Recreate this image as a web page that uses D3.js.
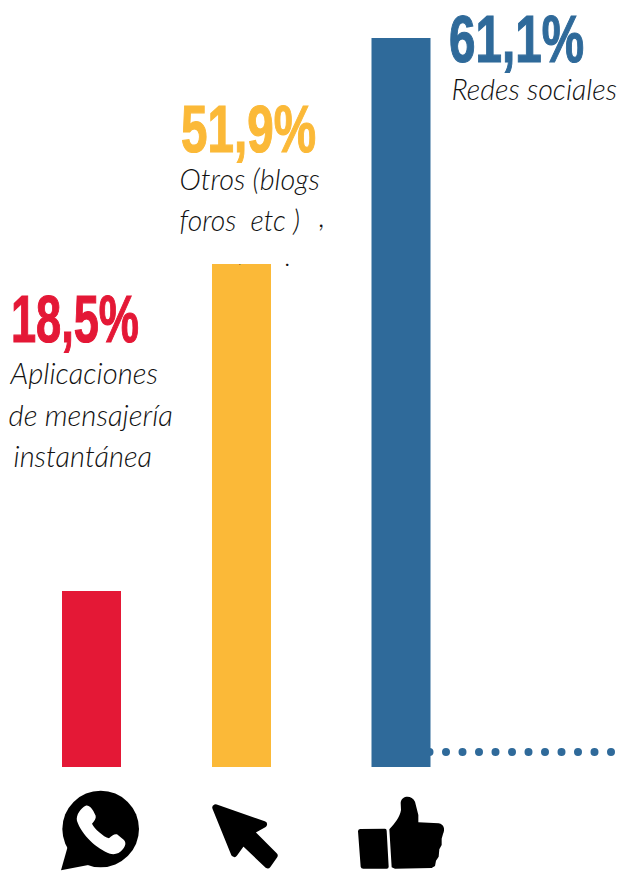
<!DOCTYPE html>
<html lang="es"><head><meta charset="utf-8">
<script src="https://cdn.jsdelivr.net/npm/d3@7/dist/d3.min.js"></script>
<style>
html,body{margin:0;padding:0;background:#fff;overflow:hidden}
svg{display:block}
.pct{font-family:"Liberation Sans Narrow","Liberation Sans",sans-serif;font-weight:700}
.lbl{font-family:Lato,sans-serif;font-weight:300;font-style:italic;fill:#111}
</style></head><body>
<script>
// ---- data ----
const categories = ["Aplicaciones de mensajería instantánea", "Otros (blogs, foros, etc.)", "Redes sociales"];
const values = [18.5, 51.9, 61.1];
const valueLabels = ["18,5%", "51,9%", "61,1%"];
const labelLines = [
  ["Aplicaciones", "de mensajería", "instantánea"],
  ["Otros (blogs", "foros  etc )"],
  ["Redes sociales"]
];
const strayMarks = [",", ".", "."];   // punctuation left detached in the source artwork

// ---- layout ----
const W = 621, H = 873, baseY = 767, barW = 59;
const colors = d3.scaleOrdinal(categories, ["#e41836", "#fbb938", "#2f6a9a"]);
const x = d3.scaleOrdinal(categories, [62, 212, 371.5]);
// the source bars are not drawn proportionally, so the scale is piecewise through each value
const y = d3.scaleLinear().domain([0, ...values]).range([baseY, 591, 264, 38]);

const pctLayout = [
  {x: 11, y: 342, w: 128, size: 66},
  {x: 181, y: 152, w: 135, size: 66},
  {x: 449, y: 62, w: 135, size: 66}
];
const lblLayout = [
  [{x: 10.5, y: 384, w: 147.5}, {x: 8.5, y: 426, w: 164.5}, {x: 13.5, y: 467, w: 138.5}],
  [{x: 179.5, y: 190, w: 140.5}, {x: 179.5, y: 231, w: 120.5}],
  [{x: 451.5, y: 100, w: 165.5}]
];
const strayLayout = [{x: 319, y: 227, s: 29}, {x: 285, y: 266, s: 26}, {x: 239, y: 265, s: 9}];

const svg = d3.select("body").append("svg").attr("width", W).attr("height", H);

// squeeze a text horizontally to the measured width of the source lettering
function fitWidth(sel, layoutOf) {
  sel.attr("transform", function (d, i) {
    const l = layoutOf(d, i);
    return `translate(${l.x},${l.y}) scale(${l.w / this.getComputedTextLength()},1)`;
  });
}

// dotted leader
svg.append("path")
  .attr("d", d3.line()([[x(categories[2]) + barW - 1, 752], [613, 752]]))
  .attr("stroke", colors(categories[2])).attr("stroke-width", 8)
  .attr("stroke-linecap", "round").attr("stroke-dasharray", "0 16.5").attr("fill", "none");

// bars
svg.selectAll("rect.bar").data(categories).join("rect").attr("class", "bar")
  .attr("x", d => x(d)).attr("width", barW)
  .attr("y", (d, i) => y(values[i])).attr("height", (d, i) => baseY - y(values[i]))
  .attr("fill", d => colors(d));

// value labels
svg.selectAll("text.pct").data(categories).join("text").attr("class", "pct")
  .attr("font-size", (d, i) => pctLayout[i].size)
  .attr("fill", d => colors(d)).attr("stroke", d => colors(d)).attr("stroke-width", 1.2)
  .text((d, i) => valueLabels[i])
  .call(fitWidth, (d, i) => pctLayout[i]);

// category labels
labelLines.forEach((lines, i) => {
  svg.selectAll(null).data(lines).join("text").attr("class", "lbl")
    .attr("font-size", 30).style("white-space", "pre")
    .text(d => d)
    .call(fitWidth, (d, j) => lblLayout[i][j]);
});
svg.selectAll("text.stray").data(strayMarks).join("text").attr("class", "lbl stray")
  .attr("x", (d, i) => strayLayout[i].x).attr("y", (d, i) => strayLayout[i].y)
  .attr("font-size", (d, i) => strayLayout[i].s).text(d => d);

// pictograms (drawn at 3x in their own space)
const k = 1 / 3;
const wa = svg.append("g").attr("transform", `translate(55,785) scale(${k})`);
wa.append("circle").attr("cx", 137).attr("cy", 132).attr("r", 115).attr("fill", "#000");
wa.append("path").attr("d", "M38 185 L18 256 L100 240 Z").attr("fill", "#000");
wa.append("path").attr("fill", "#fff")
  .attr("d", "M92 62 C100 59 108 66 115 78 L122 92 C124 100 118 108 111 116 C118 131 145 155 162 160 C170 152 178 146 186 148 L206 164 C214 172 212 182 204 192 C194 206 178 210 165 206 C125 192 80 150 66 108 C62 90 78 68 92 62 Z");

svg.append("path").attr("transform", `translate(205,795) scale(${k})`)
  .attr("fill", "#000").attr("stroke", "#000").attr("stroke-width", 20).attr("stroke-linejoin", "round")
  .attr("d", "M32 38 L176 88 L136 110 L208 182 L188 210 L114 140 L88 176 Z");

const th = svg.append("g").attr("transform", `translate(350,790) scale(${k})`).attr("fill", "#000");
th.append("path").attr("d", "M30 117 L105 116 Q110 116 110 122 L116 230 Q116 236 110 236 L40 236 Q33 236 32 230 L24 124 Q24 118 30 117 Z");
th.append("path").attr("d", "M118 118 C135 100 150 80 153 60 L152 38 C155 16 185 14 195 35 L205 75 L205 97 L266 100 C282 103 286 118 279 132 L275 146 L275 165 L268 178 L266 200 L258 212 L255 228 L245 234 L135 236 L125 232 Z");
</script>
</body></html>
